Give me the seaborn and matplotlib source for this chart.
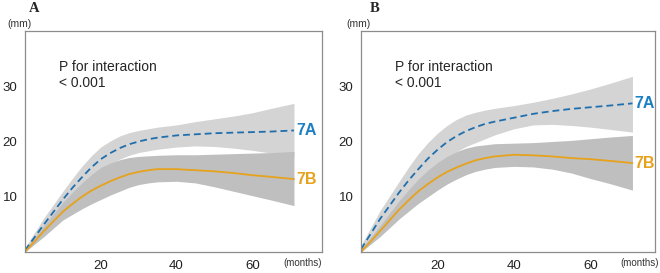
import pandas as pd
import seaborn as sns
import matplotlib.pyplot as plt

MONTHS = [0, 5, 10, 12.5, 15, 17.5, 20, 22.5, 25, 27.5, 30, 32.5, 35, 40, 45, 50, 55, 60, 65, 71]

# Panel A
A_7A    = [0.3, 5.0, 9.5, 11.6, 13.5, 15.3, 16.8, 17.9, 18.8, 19.5, 20.0, 20.4, 20.7, 21.1, 21.3, 21.5, 21.6, 21.7, 21.8, 22.0]
A_7A_HI = [0.8, 6.2, 11.0, 13.3, 15.5, 17.4, 19.0, 20.1, 21.0, 21.6, 22.0, 22.3, 22.6, 23.0, 23.6, 24.1, 24.6, 25.2, 26.0, 26.9]
A_7A_LO = [0.0, 4.0, 8.0, 10.0, 11.8, 13.4, 14.8, 15.9, 16.8, 17.5, 18.0, 18.3, 18.6, 19.0, 19.2, 19.1, 18.8, 18.4, 17.9, 17.2]
A_7B    = [0.0, 3.8, 7.3, 8.7, 10.0, 11.1, 12.0, 12.8, 13.5, 14.1, 14.5, 14.8, 15.0, 15.0, 14.8, 14.6, 14.3, 13.9, 13.6, 13.2]
A_7B_HI = [0.5, 4.8, 9.0, 10.8, 12.5, 14.0, 15.3, 16.1, 16.7, 17.1, 17.3, 17.4, 17.5, 17.6, 17.6, 17.7, 17.8, 17.9, 18.0, 18.2]
A_7B_LO = [0.0, 2.8, 5.8, 6.8, 7.8, 8.7, 9.5, 10.3, 11.0, 11.7, 12.2, 12.5, 12.7, 12.8, 12.5, 11.8, 11.0, 10.2, 9.4, 8.4]

# Panel B
B_7A    = [0.5, 6.0, 10.8, 13.0, 15.0, 16.9, 18.5, 19.9, 21.0, 21.9, 22.6, 23.2, 23.6, 24.3, 25.0, 25.5, 25.9, 26.2, 26.5, 26.9]
B_7A_HI = [1.2, 7.5, 12.8, 15.4, 17.8, 19.8, 21.5, 22.9, 24.0, 24.8, 25.3, 25.7, 26.0, 26.5, 27.1, 27.8, 28.6, 29.5, 30.5, 31.8]
B_7A_LO = [0.0, 4.5, 8.8, 10.7, 12.5, 14.2, 15.8, 17.1, 18.2, 19.1, 19.8, 20.5, 21.2, 22.3, 23.0, 23.1, 22.9, 22.6, 22.2, 21.7]
B_7B    = [0.0, 3.8, 7.7, 9.4, 11.0, 12.3, 13.5, 14.5, 15.3, 16.0, 16.6, 17.0, 17.3, 17.6, 17.5, 17.3, 17.0, 16.8, 16.5, 16.1]
B_7B_HI = [0.5, 4.8, 9.3, 11.3, 13.2, 14.8, 16.2, 17.3, 18.2, 18.8, 19.2, 19.4, 19.6, 19.7, 19.8, 20.0, 20.2, 20.5, 20.8, 21.1]
B_7B_LO = [0.0, 2.8, 6.0, 7.4, 8.8, 10.0, 11.2, 12.3, 13.2, 14.0, 14.6, 15.0, 15.3, 15.5, 15.4, 15.0, 14.3, 13.3, 12.4, 11.2]

GROUPS = ["7A", "7B"]
P_TEXT = "P for interaction\n< 0.001"

BLUE     = "#1f6fae"
BLUE_TXT = "#1b7fc2"
ORANGE   = "#e6a21c"
LIGHT    = "#d4d4d4"
DARK     = "#bfbfbf"
AXCOL    = "#8c8c8c"


def draw_panel(ax, a, a_hi, a_lo, b, b_hi, b_lo, xmax):
    ax.fill_between(MONTHS, a_lo, a_hi, color=LIGHT, lw=0)
    ax.fill_between(MONTHS, b_lo, b_hi, color=DARK, lw=0)

    df = pd.DataFrame({"month": MONTHS + MONTHS,
                       "size": a + b,
                       "group": ["7A"] * len(MONTHS) + ["7B"] * len(MONTHS)})
    sns.lineplot(data=df, x="month", y="size", hue="group", style="group",
                 hue_order=GROUPS, style_order=GROUPS,
                 palette=[BLUE, ORANGE], dashes=[(3.8, 2.2), ""],
                 linewidth=1.3, legend=False, ax=ax)

    ax.text(MONTHS[-1] + 0.6, a[-1], "7A", color=BLUE_TXT,
            fontsize=11.5, fontweight="bold", va="center", ha="left")
    ax.text(MONTHS[-1] + 0.6, b[-1], "7B", color=ORANGE,
            fontsize=11.5, fontweight="bold", va="center", ha="left")
    ax.text(9, 32, P_TEXT, fontsize=10, va="center", ha="left",
            linespacing=1.2)

    ax.set_xlim(0, xmax)
    ax.set_ylim(0, 40)
    ax.set_xticks([20, 40, 60])
    ax.set_yticks([10, 20, 30])
    ax.set_xlabel(""); ax.set_ylabel("")
    ax.tick_params(axis="both", direction="out", length=3.5, width=0.8,
                   color=AXCOL, labelsize=9.5, labelcolor="#222222", pad=2)
    for side in ("top", "right", "bottom", "left"):
        ax.spines[side].set_visible(True)
        ax.spines[side].set_color(AXCOL)
        ax.spines[side].set_linewidth(0.9)
    ax.grid(False)


def main():
    sns.set_theme(style="white")
    plt.rcParams["font.family"] = ["Liberation Sans", "DejaVu Sans"]

    fig = plt.figure(figsize=(6.6, 2.73), dpi=100)
    ax0 = fig.add_axes([25/660, 21/273, 297/660, 221/273])
    ax1 = fig.add_axes([361/660, 21/273, 294/660, 221/273])

    draw_panel(ax0, A_7A, A_7A_HI, A_7A_LO, A_7B, A_7B_HI, A_7B_LO, 78.4)
    draw_panel(ax1, B_7A, B_7A_HI, B_7A_LO, B_7B, B_7B_HI, B_7B_LO, 76.9)

    W, H = 660, 273
    serif = ["Liberation Serif", "DejaVu Serif"]
    for lab, x in (("A", 34), ("B", 375)):
        fig.text(x / W, 1 - 8 / H, lab, fontsize=10.5, fontweight="bold",
                 family=serif, ha="center", va="center")
    for x in (20, 358):
        fig.text(x / W, 1 - 24 / H, "(mm)", fontsize=7.5, color="#333333",
                 ha="center", va="center")
    for x in (303, 640):
        fig.text(x / W, 1 - 263 / H, "(months)", fontsize=7, color="#333333",
                 ha="center", va="center")

    fig.savefig("out.png", dpi=100)


if __name__ == "__main__":
    main()
